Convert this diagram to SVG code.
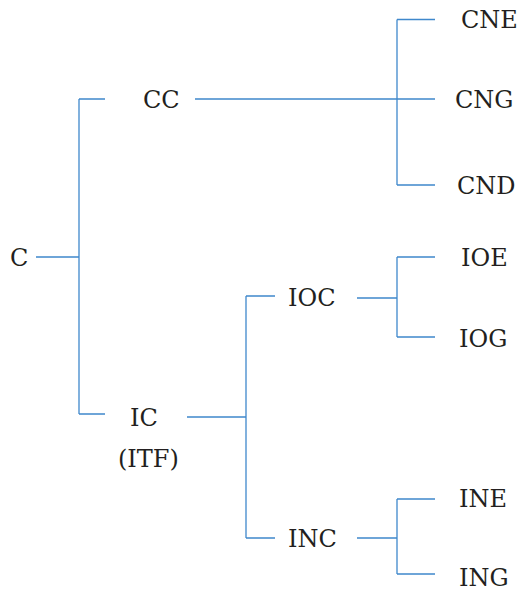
<svg xmlns="http://www.w3.org/2000/svg" width="531" height="591" viewBox="0 0 531 591">
<style>
.t{font-family:"DejaVu Serif","Liberation Serif",serif;font-size:24px;fill:#231f20;dominant-baseline:central}
.e{fill:none;stroke:#3f88cc;stroke-width:1.3}
</style>
<rect width="531" height="591" fill="#fff"/>
<g id="connectors">
<path class="e" d="M36 257H79M79 99V414M79 99H105M79 414H105"/>
<path class="e" d="M195 99H435M397 19.5V185M397 19.5H435M397 185H435"/>
<path class="e" d="M187 417H246M246 296V538M246 296H275M246 538H275"/>
<path class="e" d="M357 298H397M397 257V337M397 257H435M397 337H435"/>
<path class="e" d="M357 538H397M397 499V574M397 499H435M397 574H435"/>
</g>
<g id="n-C"><text class="t" x="10" y="258">C</text></g>
<g id="n-CC"><text class="t" x="143" y="100">CC</text></g>
<g id="n-CNE"><text class="t" x="461" y="20">CNE</text></g>
<g id="n-CNG"><text class="t" x="455" y="100">CNG</text></g>
<g id="n-CND"><text class="t" x="457" y="186">CND</text></g>
<g id="n-IC"><text class="t" x="130" y="418">IC</text><text class="t" x="118" y="459">(ITF)</text></g>
<g id="n-IOC"><text class="t" x="288" y="298">IOC</text></g>
<g id="n-IOE"><text class="t" x="461" y="258">IOE</text></g>
<g id="n-IOG"><text class="t" x="459" y="339">IOG</text></g>
<g id="n-INC"><text class="t" x="288" y="539">INC</text></g>
<g id="n-INE"><text class="t" x="459" y="499">INE</text></g>
<g id="n-ING"><text class="t" x="459" y="578">ING</text></g>
</svg>
